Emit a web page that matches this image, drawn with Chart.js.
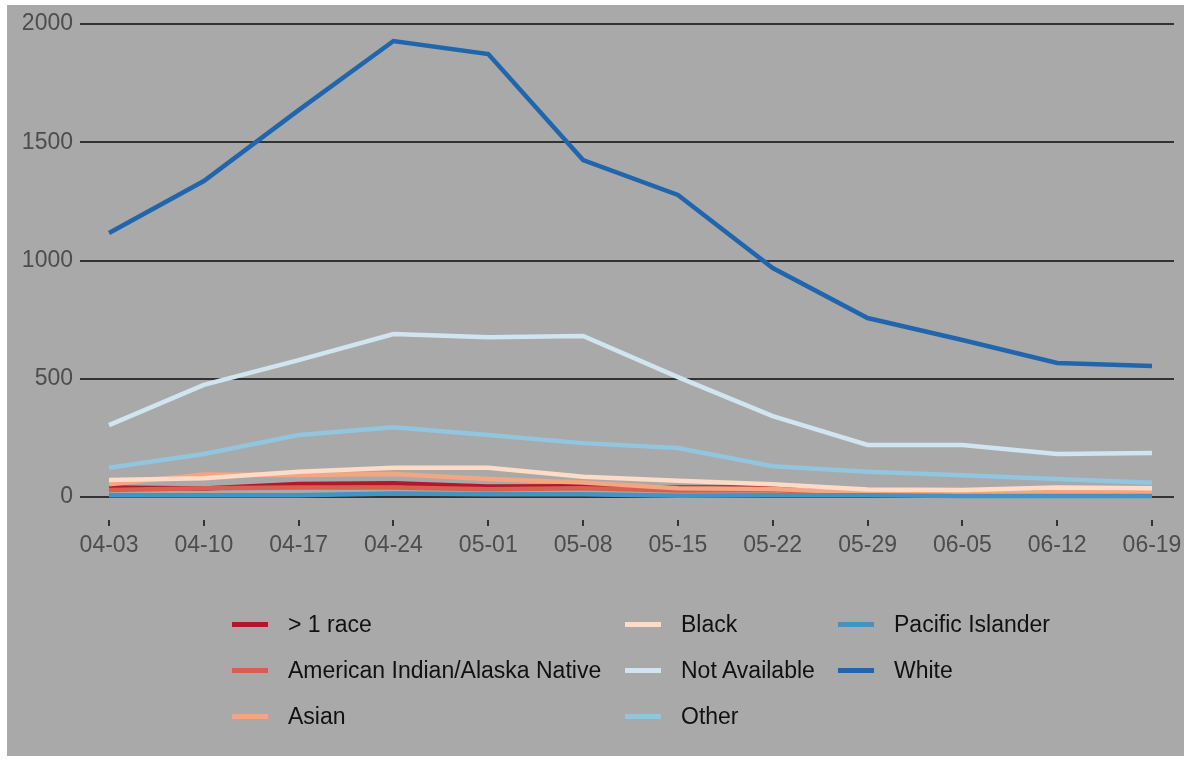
<!DOCTYPE html>
<html>
<head>
<meta charset="utf-8">
<script src="https://cdn.jsdelivr.net/npm/chart.js@4.4.1/dist/chart.umd.min.js"></script>
<style>
  html, body { margin: 0; padding: 0; background: #ffffff; }
  body { width: 1190px; height: 761px; position: relative; overflow: hidden; font-family: "Liberation Sans", Arial, sans-serif; }
  #panel { position: absolute; left: 7px; top: 5px; width: 1177px; height: 751px; background: #a9a9a9; }
  #wrap { position: absolute; left: 0; top: 0; width: 1190px; height: 580px; }
  #legend { position: absolute; left: 0; top: 0; width: 1190px; height: 761px; pointer-events: none; }
  .item { position: absolute; height: 30px; display: flex; align-items: center; }
  .swatch { width: 36px; height: 5px; margin-right: 20px; }
  .lab { font-size: 23px; color: #111; white-space: nowrap; }
</style>
</head>
<body>
<div id="panel"></div>
<div id="wrap"><canvas id="c"></canvas></div>
<div id="legend"></div>
<script>
const categories = ["04-03","04-10","04-17","04-24","05-01","05-08","05-15","05-22","05-29","06-05","06-12","06-19"];
const yTicks = [0, 500, 1000, 1500, 2000];
const seriesNames = ["> 1 race","American Indian/Alaska Native","Asian","Black","Not Available","Other","Pacific Islander","White"];
const seriesColors = ["#b2182b","#d6604d","#f4a582","#fddbc7","#d1e5f0","#92c5de","#4393c3","#2166ac"];
const multiRace      = [40, 36, 55, 58, 45, 46, 40, 40, 12, 8, 8, 8];
const amIndian       = [30, 37, 40, 40, 33, 37, 28, 30, 12, 8, 8, 8];
const asian          = [54, 95, 93, 97, 76, 62, 37, 34, 18, 15, 20, 20];
const black          = [72, 80, 107, 124, 124, 86, 69, 54, 32, 30, 40, 37];
const notAvailable   = [304, 474, 579, 689, 676, 681, 507, 342, 220, 220, 182, 186];
const other          = [124, 182, 262, 295, 262, 228, 207, 130, 107, 92, 76, 60];
const pacific        = [8, 8, 8, 15, 12, 12, 5, 8, 8, 4, 4, 4];
const white          = [1116, 1336, 1636, 1928, 1873, 1425, 1277, 968, 757, 664, 567, 554];
const seriesValues = [multiRace, amIndian, asian, black, notAvailable, other, pacific, white];

const n = seriesNames.length;
const datasets = seriesNames.map((name, i) => ({
  label: name,
  data: seriesValues[i].map((v, k) => ({ x: k, y: v })),
  borderColor: seriesColors[i],
  backgroundColor: seriesColors[i],
  borderWidth: 4.5,
  pointRadius: 0,
  tension: 0,
  fill: false,
  order: n - 1 - i
}));

const FONT = "'Liberation Sans', Arial, sans-serif";

new Chart(document.getElementById('c'), {
  type: 'line',
  data: { datasets },
  options: {
    responsive: true,
    maintainAspectRatio: false,
    animation: false,
    layout: { padding: { left: 0, right: 16, top: 24, bottom: 0 } },
    plugins: { legend: { display: false }, tooltip: { enabled: false } },
    scales: {
      x: {
        type: 'linear',
        min: -0.306,
        max: 11.232,
        afterBuildTicks: (s) => { s.ticks = categories.map((_, i) => ({ value: i })); },
        afterFit: (s) => { s.height = 60; },
        border: { display: false },
        grid: { drawOnChartArea: false, drawTicks: true, tickLength: 6, color: '#333333', lineWidth: 2 },
        ticks: {
          autoSkip: false, maxRotation: 0, padding: 6,
          color: '#4d4d4d', font: { family: FONT, size: 23 },
          callback: (v) => categories[v]
        }
      },
      y: {
        min: -97,
        max: 2000,
        afterBuildTicks: (s) => { s.ticks = yTicks.map(v => ({ value: v })); },
        afterFit: (s) => { s.width = 80; },
        border: { display: false },
        grid: { drawTicks: false, color: '#333333', lineWidth: 2 },
        ticks: { padding: 7, color: '#4d4d4d', font: { family: FONT, size: 23 }, callback: (v) => String(v) }
      }
    }
  }
});

// legend, column-major, 3 rows
const colX = [232, 625, 838];
const rowY = [624, 670, 716];
const leg = document.getElementById('legend');
seriesNames.forEach((name, i) => {
  const col = Math.floor(i / 3), row = i % 3;
  const d = document.createElement('div');
  d.className = 'item';
  d.style.left = colX[col] + 'px';
  d.style.top = (rowY[row] - 15) + 'px';
  const sw = document.createElement('div');
  sw.className = 'swatch';
  sw.style.background = seriesColors[i];
  const t = document.createElement('span');
  t.className = 'lab';
  t.textContent = name;
  d.appendChild(sw); d.appendChild(t);
  leg.appendChild(d);
});
</script>
</body>
</html>
